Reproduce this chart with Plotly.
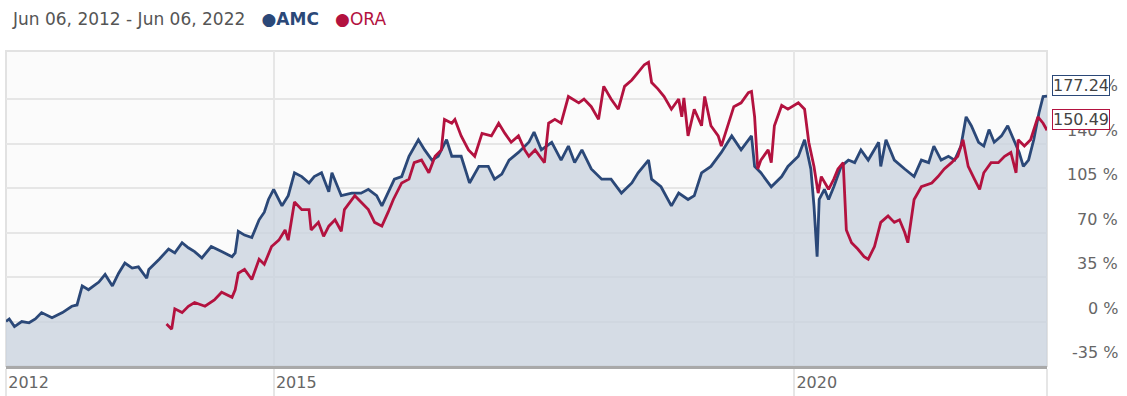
import plotly.graph_objects as go
import pandas as pd

# ---- data (decimal years, cumulative return %) ----
amc_t = [2012.43, 2012.46, 2012.51, 2012.58, 2012.65, 2012.71, 2012.77, 2012.87, 2012.97, 2013.06,
         2013.11, 2013.16, 2013.22, 2013.32, 2013.38, 2013.45, 2013.51, 2013.57, 2013.64, 2013.70,
         2013.78, 2013.80, 2013.90, 2013.99, 2014.05, 2014.12, 2014.18, 2014.24, 2014.31, 2014.40,
         2014.50, 2014.60, 2014.63, 2014.66, 2014.72, 2014.79, 2014.86, 2014.91, 2014.95, 2015.00,
         2015.08, 2015.14, 2015.20, 2015.27, 2015.34, 2015.39, 2015.46, 2015.53, 2015.56, 2015.65,
         2015.75, 2015.84, 2015.91, 2015.99, 2016.04, 2016.10, 2016.16, 2016.23, 2016.30, 2016.39,
         2016.45, 2016.52, 2016.58, 2016.66, 2016.71, 2016.80, 2016.88, 2016.97, 2017.06, 2017.12,
         2017.19, 2017.26, 2017.35, 2017.45, 2017.50, 2017.57, 2017.67, 2017.76, 2017.83, 2017.89,
         2017.96, 2018.05, 2018.15, 2018.24, 2018.34, 2018.44, 2018.50, 2018.60, 2018.63, 2018.72,
         2018.82, 2018.89, 2018.98, 2019.04, 2019.11, 2019.20, 2019.30, 2019.40, 2019.49, 2019.59,
         2019.62, 2019.68, 2019.78, 2019.88, 2019.94, 2020.04, 2020.10, 2020.16, 2020.19, 2020.22,
         2020.24, 2020.29, 2020.33, 2020.38, 2020.45, 2020.52, 2020.58, 2020.64, 2020.71, 2020.81,
         2020.83, 2020.88, 2020.96, 2021.06, 2021.15, 2021.22, 2021.29, 2021.34, 2021.41, 2021.48,
         2021.54, 2021.60, 2021.65, 2021.70, 2021.77, 2021.82, 2021.87, 2021.92, 2021.99, 2022.05,
         2022.11, 2022.16, 2022.20, 2022.25, 2022.30, 2022.35, 2022.39, 2022.43]
amc_v = [0, 2, -4, 0, -1, 2, 7, 3, 7, 12,
         13, 28, 25, 31, 37, 28, 38, 46, 42, 43,
         34, 41, 49, 57, 54, 62, 58, 55, 50, 59,
         55, 51, 54, 71, 68, 66, 80, 86, 96, 104,
         91, 99, 117, 114, 109, 114, 117, 102, 117, 99,
         101, 101, 104, 99, 91, 101, 112, 114, 130, 143,
         135, 127, 130, 143, 130, 130, 109, 122, 122, 112,
         116, 127, 133, 141, 149, 135, 141, 127, 138, 125,
         135, 120, 112, 112, 101, 109, 117, 127, 112, 106,
         91, 101, 96, 99, 117, 122, 133, 146, 135, 146,
         122, 117, 106, 114, 122, 130, 143, 120, 91, 51,
         96, 104, 96, 106, 122, 127, 125, 135, 127, 141,
         122, 143, 127, 120, 114, 127, 125, 138, 127, 130,
         127, 138, 161, 154, 141, 138, 151, 141, 146, 154,
         143, 133, 122, 127, 143, 164, 177, 177.24]

ora_t = [2013.97, 2014.02, 2014.05, 2014.12, 2014.18, 2014.24, 2014.34, 2014.43, 2014.50, 2014.60,
         2014.63, 2014.66, 2014.72, 2014.79, 2014.86, 2014.91, 2014.98, 2015.05, 2015.11, 2015.14,
         2015.20, 2015.27, 2015.34, 2015.36, 2015.43, 2015.48, 2015.53, 2015.59, 2015.65, 2015.68,
         2015.78, 2015.84, 2015.91, 2015.97, 2016.04, 2016.10, 2016.15, 2016.23, 2016.30, 2016.35,
         2016.42, 2016.49, 2016.55, 2016.61, 2016.64, 2016.71, 2016.74, 2016.80, 2016.87, 2016.93,
         2017.00, 2017.09, 2017.16, 2017.22, 2017.28, 2017.35, 2017.41, 2017.45, 2017.51, 2017.60,
         2017.64, 2017.70, 2017.76, 2017.83, 2017.93, 2017.98, 2018.05, 2018.12, 2018.17, 2018.24,
         2018.31, 2018.37, 2018.44, 2018.50, 2018.56, 2018.60, 2018.63, 2018.69, 2018.75, 2018.82,
         2018.89, 2018.92, 2018.94, 2018.98, 2019.04, 2019.11, 2019.14, 2019.20, 2019.27, 2019.30,
         2019.37, 2019.42, 2019.49, 2019.56, 2019.59, 2019.62, 2019.65, 2019.68, 2019.75, 2019.78,
         2019.81, 2019.88, 2019.94, 2020.04, 2020.10, 2020.14, 2020.19, 2020.23, 2020.26, 2020.33,
         2020.38, 2020.42, 2020.47, 2020.50, 2020.55, 2020.61, 2020.67, 2020.71, 2020.77, 2020.83,
         2020.90, 2020.96, 2021.01, 2021.06, 2021.09, 2021.15, 2021.22, 2021.32, 2021.38, 2021.44,
         2021.51, 2021.57, 2021.62, 2021.67, 2021.73, 2021.78, 2021.82, 2021.89, 2021.96, 2022.02,
         2022.08, 2022.13, 2022.15, 2022.21, 2022.27, 2022.34, 2022.39, 2022.43]
ora_v = [-2, -6, 10, 7, 12, 15, 12, 17, 23, 19,
         25, 38, 41, 33, 49, 45, 59, 64, 72, 64,
         94, 88, 88, 72, 78, 67, 75, 80, 71, 88,
         99, 94, 88, 78, 75, 86, 96, 109, 112, 125,
         127, 117, 130, 135, 159, 156, 159, 146, 135, 130,
         148, 146, 156, 148, 141, 146, 135, 130, 135, 125,
         156, 159, 156, 177, 172, 175, 169, 159, 185, 175,
         167, 185, 190, 196, 202, 204, 188, 183, 177, 167,
         175, 161, 176, 146, 167, 154, 177, 154, 146, 138,
         156, 169, 172, 180, 181, 161, 120, 127, 135, 125,
         154, 170, 167, 172, 167, 141, 122, 101, 114, 104,
         112, 120, 125, 72, 62, 57, 51, 49, 59, 78,
         83, 78, 80, 70, 62, 96, 106, 109, 114, 120,
         125, 130, 143, 122, 112, 104, 117, 125, 125, 130,
         133, 117, 143, 138, 143, 161, 156, 150.49]

y_ticks = [-35, 0, 35, 70, 105, 140, 175]
x_tickvals = ["2012-06-06", "2015-01-01", "2020-01-01", "2022-06-06"]
x_ticktext = ["2012", "2015", "2020", ""]
date_range = ["2012-06-06", "2022-06-06"]

AMC_COLOR = "#2b4878"
ORA_COLOR = "#b3123f"
FONT = "DejaVu Sans"


def to_dates(ts):
    out = []
    for t in ts:
        y = int(t)
        start = pd.Timestamp(year=y, month=1, day=1)
        days = (pd.Timestamp(year=y + 1, month=1, day=1) - start).days
        out.append(start + pd.Timedelta(days=(t - y) * days))
    return out


amc_d = to_dates(amc_t)
ora_d = to_dates(ora_t)
amc_d[0] = pd.Timestamp(date_range[0])
amc_d[-1] = pd.Timestamp(date_range[1])
ora_d[-1] = pd.Timestamp(date_range[1])

fig = go.Figure()
fig.add_trace(go.Scatter(x=amc_d, y=[y_ticks[0]] * len(amc_d), mode="lines",
                         line=dict(width=0), hoverinfo="skip", showlegend=False))
fig.add_trace(go.Scatter(x=amc_d, y=amc_v, mode="lines", fill="tonexty",
                         fillcolor="rgba(200,209,222,0.75)",
                         line=dict(color=AMC_COLOR, width=2.8), name="AMC", showlegend=False))
fig.add_trace(go.Scatter(x=ora_d, y=ora_v, mode="lines",
                         line=dict(color=ORA_COLOR, width=2.8), name="ORA", showlegend=False))

annotations = []
for v in y_ticks:
    annotations.append(dict(x=1.0701, xref="paper", y=v, yref="y", text=f"{v} %",
                            showarrow=False, xanchor="right", yanchor="bottom", yshift=2,
                            font=dict(family=FONT, size=16, color="#666666")))
annotations.append(dict(x=1.0048, xref="paper", y=amc_v[-1], yref="y", text=f"{amc_v[-1]:.2f}",
                        showarrow=False, xanchor="left", yanchor="bottom", bgcolor="white",
                        bordercolor=AMC_COLOR, borderwidth=1, borderpad=0,
                        font=dict(family=FONT, size=16, color="#444444")))
annotations.append(dict(x=1.0048, xref="paper", y=ora_v[-1], yref="y", text=f"{ora_v[-1]:.2f}",
                        showarrow=False, xanchor="left", yanchor="bottom", bgcolor="white",
                        bordercolor=ORA_COLOR, borderwidth=1, borderpad=0,
                        font=dict(family=FONT, size=16, color="#444444")))
annotations.append(dict(
    x=0.004, xref="paper", y=1.1016, yref="paper", xanchor="left", yanchor="middle",
    showarrow=False,
    text=("Jun 06, 2012 - Jun 06, 2022   "
          f"<span style='color:{AMC_COLOR}'><b>●AMC</b></span>   "
          f"<span style='color:{ORA_COLOR}'>●ORA</span>"),
    font=dict(family=FONT, size=17, color="#555555")))

fig.update_layout(
    width=1127, height=396,
    margin=dict(l=6, r=80, t=51, b=30, autoexpand=False),
    paper_bgcolor="white",
    plot_bgcolor="#fbfbfb",
    showlegend=False,
    annotations=annotations,
    shapes=[dict(type="rect", xref="paper", yref="paper", x0=0, x1=1, y0=0, y1=1,
                 line=dict(color="#e2e2e2", width=2), layer="below")],
    xaxis=dict(type="date", range=date_range, tickvals=x_tickvals, ticktext=x_ticktext,
               automargin=False,
               showgrid=True, gridcolor="#e6e6e6", gridwidth=1.5,
               ticks="outside", ticklen=30, tickcolor="#e6e6e6", tickwidth=1.5,
               ticklabelposition="outside right",
               tickfont=dict(family=FONT, size=16, color="#666666"),
               showline=True, linecolor="#a9a9a9", linewidth=3, zeroline=False),
    yaxis=dict(range=[-35, 212.8], tickvals=y_ticks, showticklabels=False, automargin=False,
               showgrid=True, gridcolor="#e6e6e6", gridwidth=2, zeroline=False),
)

fig.write_html("out.html")
